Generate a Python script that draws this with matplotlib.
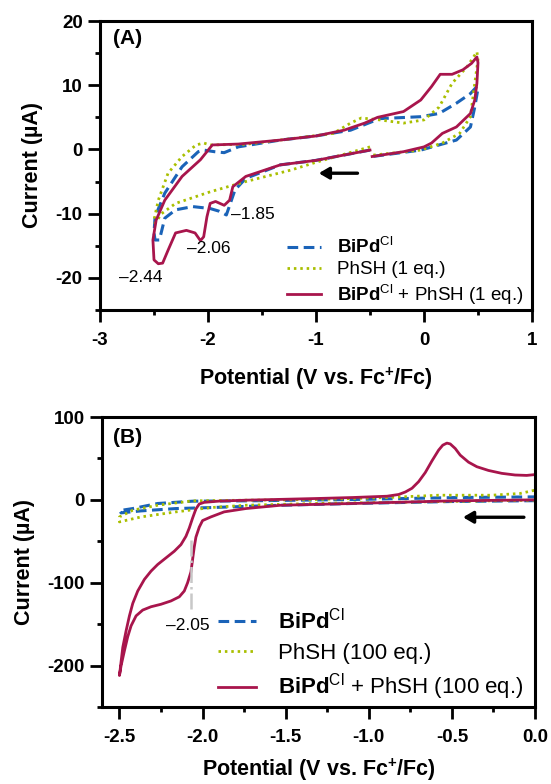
import numpy as np
import matplotlib
matplotlib.use("Agg")
import matplotlib.pyplot as plt
from matplotlib.ticker import MultipleLocator, FormatStrFormatter

plt.rcParams['font.family'] = ['Liberation Sans', 'DejaVu Sans']
plt.rcParams['mathtext.fontset'] = 'custom'
plt.rcParams['mathtext.rm'] = 'Liberation Sans'
plt.rcParams['mathtext.bf'] = 'Liberation Sans:bold'
plt.rcParams['mathtext.it'] = 'Liberation Sans:italic'
plt.rcParams['axes.unicode_minus'] = False

BLUE = "#1a63b8"
GREEN = "#a9bf00"
RED = "#a8154c"

# ---- panel A data (1 eq.) ----
a_red_x = [-0.50, -1.00, -1.33, -1.65, -1.77, -1.80, -1.85, -1.93, -1.98, -2.01, -2.04, -2.07,
           -2.12, -2.20, -2.30, -2.37, -2.42, -2.46, -2.50, -2.51, -2.48, -2.40, -2.24, -2.07,
           -1.96, -1.72, -1.33, -1.00, -0.74, -0.55, -0.43, -0.19, -0.03, 0.07, 0.15, 0.26,
           0.36, 0.44, 0.49, 0.50, 0.49, 0.47, 0.43, 0.30, 0.17, 0.07, 0.00, -0.19, -0.48]
a_red_y = [-0.1, -1.7, -2.4, -4.2, -5.8, -7.9, -8.7, -8.1, -8.4, -10.5, -13.6, -14.2,
           -13.0, -12.6, -13.0, -15.7, -17.7, -17.8, -17.2, -14.1, -11.0, -7.9, -4.2, -1.6,
           0.7, 0.84, 1.46, 2.1, 3.0, 4.1, 5.0, 5.9, 7.7, 9.8, 11.7, 11.7,
           12.4, 13.4, 14.4, 13.5, 10.3, 7.7, 5.6, 3.5, 2.5, 1.0, 0.4, -0.35, -1.1]

a_blue_x = [-0.50, -1.00, -1.33, -1.65, -1.75, -1.83, -1.90, -1.98, -2.14, -2.30, -2.40, -2.45,
            -2.49, -2.50, -2.49, -2.40, -2.24, -2.09, -2.04, -1.94, -1.85, -1.72, -1.33, -1.00,
            -0.68, -0.41, -0.03, 0.14, 0.30, 0.43, 0.49, 0.50, 0.47, 0.43, 0.30, 0.14, -0.03, -0.48]
a_blue_y = [-0.1, -1.7, -2.4, -4.5, -6.3, -10.2, -9.6, -9.2, -8.9, -9.4, -10.7, -14.1,
            -14.1, -13.0, -10.5, -6.8, -2.7, -0.35, -0.1, -0.35, -0.5, 0.4, 1.46, 2.1,
            3.0, 4.8, 5.1, 5.6, 7.2, 8.7, 9.8, 9.5, 6.6, 3.5, 1.46, 0.7, -0.1, -1.1]

a_grn_x = [-0.50, -1.00, -1.23, -1.65, -1.98, -2.30, -2.43, -2.49, -2.50, -2.46, -2.37, -2.24,
           -2.11, -2.04, -1.98, -1.65, -1.17, -0.84, -0.68, -0.58, -0.41, -0.19, 0.00, 0.14,
           0.26, 0.40, 0.49, 0.50, 0.47, 0.43, 0.33, 0.17, -0.03, -0.48]
a_grn_y = [0.4, -2.0, -3.2, -5.0, -6.6, -8.4, -10.0, -11.5, -11.0, -7.9, -3.7, -1.1,
           0.7, 1.0, 0.7, 0.8, 1.8, 2.5, 4.1, 4.9, 4.6, 4.1, 4.6, 6.6,
           10.3, 12.9, 15.2, 14.0, 10.3, 5.1, 2.5, 1.0, -0.1, -0.9]

# ---- panel B data (100 eq.) ----
b_red_x = [0.00, -0.50, -1.10, -1.53, -1.74, -1.87, -1.95, -2.00, -2.02, -2.04, -2.05, -2.06,
           -2.07, -2.09, -2.11, -2.14, -2.19, -2.25, -2.31, -2.36, -2.40, -2.43, -2.45, -2.47,
           -2.49, -2.50, -2.49, -2.48, -2.46, -2.44, -2.42, -2.39, -2.35, -2.31, -2.27, -2.22,
           -2.17, -2.13, -2.10, -2.08, -2.06, -2.04, -2.02, -1.99, -1.90, -1.74, -1.32, -1.10,
           -0.89, -0.82, -0.78, -0.74, -0.70, -0.66, -0.62, -0.58, -0.555, -0.53, -0.51, -0.48,
           -0.45, -0.40, -0.35, -0.28, -0.20, -0.12, -0.05, 0.00]
b_red_y = [0.0, -1.2, -4.4, -6.5, -10.5, -14.5, -20.6, -25, -33, -45, -57, -72,
           -87, -100, -110, -117, -122, -126, -129, -133, -140, -152, -165, -182,
           -200, -212, -195, -178, -158, -140, -125, -110, -96, -86, -78, -70,
           -62, -54, -44, -34, -22, -11, -5, -3, -1.5, -0.4, 1.6, 2.8,
           4.4, 6.5, 9.5, 14, 22, 33, 47, 60, 66, 68.5, 67.5, 62,
           54, 45.5, 40, 35.5, 32, 30, 29.5, 30.5]

b_blue_x = [0.00, -0.50, -1.10, -1.53, -1.95, -2.16, -2.37, -2.49, -2.50, -2.42, -2.27, -2.06,
            -1.74, -1.10, -0.47, 0.00]
b_blue_y = [-1.0, -2.0, -4.4, -6.5, -9.3, -10.5, -13.3, -15.7, -13.0, -10.5, -4.4, -1.6,
            -1.2, 0.4, 2.8, 3.6]

b_grn_x = [0.00, -0.68, -1.32, -1.74, -1.95, -2.16, -2.37, -2.50, -2.50, -2.42, -2.27, -2.06,
           -1.74, -1.32, -0.89, -0.58, -0.26, -0.09, 0.00]
b_grn_y = [-0.4, -2.4, -4.4, -6.5, -9.3, -14.5, -20.6, -26.6, -20.6, -12.5, -6.5, -1.2,
           -0.4, 0.4, 2.8, 5.6, 5.6, 7.7, 11.7]

W, H = 551, 784
fig = plt.figure(figsize=(W / 100, H / 100), dpi=100)


def px_axes(l, t, r, b):
    return fig.add_axes([l / W, 1 - b / H, (r - l) / W, (b - t) / H])


def style(ax):
    for s in ax.spines.values():
        s.set_linewidth(2.2)
    ax.tick_params(which='major', direction='out', length=8.5, width=2.0,
                   labelsize=13.5, pad=4)
    ax.tick_params(which='minor', direction='out', length=3.8, width=2.0)
    for lab in ax.get_xticklabels() + ax.get_yticklabels():
        lab.set_fontweight('bold')


lw_r, lw_b, lw_g = 2.0, 2.2, 2.0
arrow_style = dict(arrowstyle='-|>,head_length=0.6,head_width=0.35', color='black', lw=2.4)

# ---------------- (A) ----------------
axA = px_axes(100, 21, 532, 310)
axA.plot(a_blue_x, a_blue_y, color=BLUE, lw=lw_b, ls=(0, (3.5, 1.8)),
         label=r"$\mathbf{BiPd}^{\mathrm{Cl}}$")
axA.plot(a_grn_x, a_grn_y, color=GREEN, lw=lw_g, ls=(0, (0.9, 1.4)),
         label="PhSH (1 eq.)")
axA.plot(a_red_x, a_red_y, color=RED, lw=lw_r,
         label=r"$\mathbf{BiPd}^{\mathrm{Cl}}$ + PhSH (1 eq.)")
axA.set_xlim(-3, 1)
axA.set_ylim(-25, 20)
axA.xaxis.set_major_locator(MultipleLocator(1))
axA.xaxis.set_minor_locator(MultipleLocator(0.5))
axA.yaxis.set_major_locator(MultipleLocator(10))
axA.yaxis.set_minor_locator(MultipleLocator(5))
style(axA)
axA.tick_params(axis='x', pad=7)
axA.set_xlabel(r"Potential (V vs. Fc$^{\mathbf{+}}$/Fc)", fontsize=15.5, fontweight='bold', labelpad=12)
axA.set_ylabel("Current (µA)", fontsize=15.5, fontweight='bold', labelpad=9)
axA.text(0.03, 0.94, "(A)", transform=axA.transAxes, fontsize=15, fontweight='bold',
         va='center', ha='left')
axA.text(-2.62, -19.9, "\u20132.44", fontsize=12.5, ha='center', va='center')
axA.text(-1.99, -15.4, "\u20132.06", fontsize=12.5, ha='center', va='center')
axA.text(-1.58, -10.2, "\u20131.85", fontsize=12.5, ha='center', va='center')
axA.annotate("", xy=(-1.0, -3.7), xytext=(-0.59, -3.7), arrowprops=arrow_style)
legA = axA.legend(loc='lower right', bbox_to_anchor=(1.015, -0.04), frameon=False,
                  fontsize=13.5, handlelength=1.8, handletextpad=0.85,
                  labelspacing=0.22, borderpad=0.3)

# ---------------- (B) ----------------
axB = px_axes(102, 417, 535, 707)
axB.plot(b_blue_x, b_blue_y, color=BLUE, lw=lw_b, ls=(0, (3.5, 1.8)),
         label=r"$\mathbf{BiPd}^{\mathrm{Cl}}$")
axB.plot(b_grn_x, b_grn_y, color=GREEN, lw=lw_g, ls=(0, (0.9, 1.4)),
         label="PhSH (100 eq.)")
axB.plot(b_red_x, b_red_y, color=RED, lw=lw_r,
         label=r"$\mathbf{BiPd}^{\mathrm{Cl}}$ + PhSH (100 eq.)")
axB.plot([-2.07, -2.07], [-48, -135], color='#c8c8c8', lw=1.8, ls='-.')
axB.set_xlim(-2.605, 0)
axB.set_ylim(-250, 100)
axB.xaxis.set_major_locator(MultipleLocator(0.5))
axB.xaxis.set_minor_locator(MultipleLocator(0.25))
axB.xaxis.set_major_formatter(FormatStrFormatter('%.1f'))
axB.yaxis.set_major_locator(MultipleLocator(100))
axB.yaxis.set_minor_locator(MultipleLocator(50))
style(axB)
axB.tick_params(axis='x', pad=7)
axB.set_xlabel(r"Potential (V vs. Fc$^{\mathbf{+}}$/Fc)", fontsize=15.5, fontweight='bold', labelpad=8)
axB.set_ylabel("Current (µA)", fontsize=15.5, fontweight='bold', labelpad=9)
axB.text(0.025, 0.93, "(B)", transform=axB.transAxes, fontsize=15, fontweight='bold',
         va='center', ha='left')
axB.text(-2.09, -151.5, "\u20132.05", fontsize=12.5, ha='center', va='center')
axB.annotate("", xy=(-0.45, -21), xytext=(-0.05, -21), arrowprops=arrow_style)
legB = axB.legend(loc='lower right', bbox_to_anchor=(1.015, -0.045), frameon=False,
                  fontsize=16, handlelength=1.7, handletextpad=1.0,
                  labelspacing=0.38, borderpad=0.3)

fig.savefig("out.png", dpi=100)
